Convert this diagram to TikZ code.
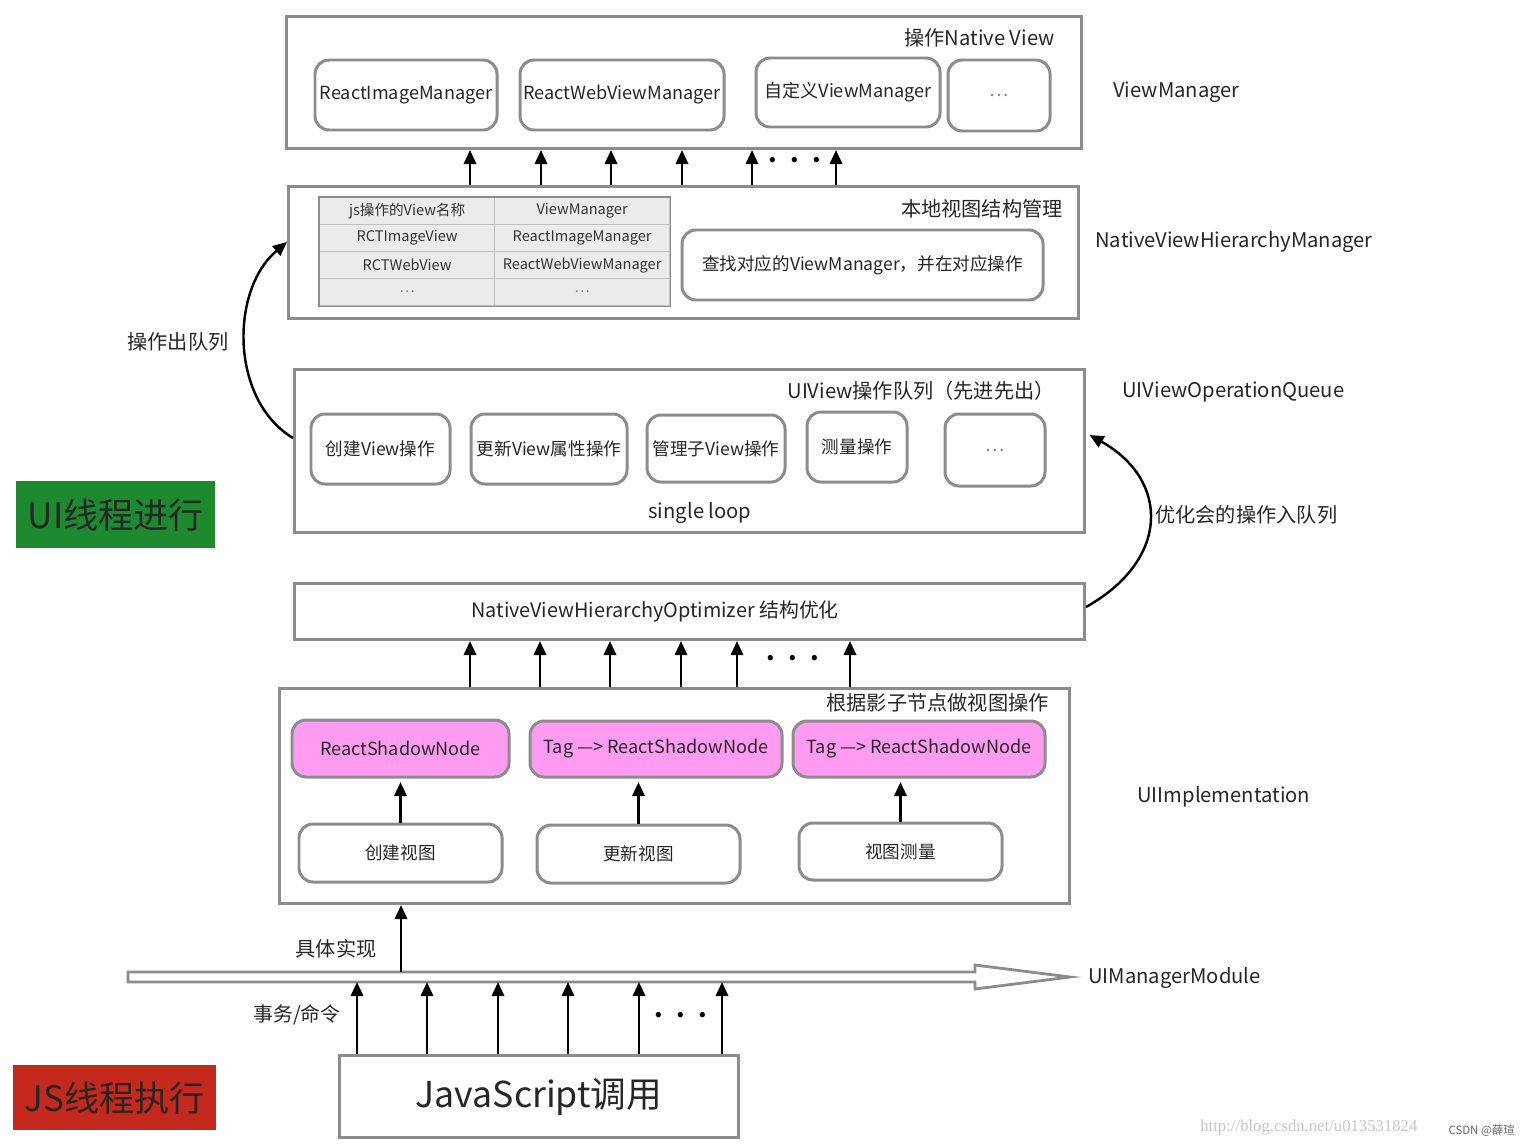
\documentclass[tikz,border=0pt]{standalone}
\usepackage{fontspec}
\setmainfont{Noto Sans CJK SC}
\newfontfamily\markfont{Liberation Serif}
\usetikzlibrary{
  arrows.meta,  % Triangle 箭头
  positioning,  % 节点相对定位
  calc          % 坐标计算
}
\definecolor{boxgray}{HTML}{8C8C8C}
\definecolor{cellgray}{HTML}{EBEBEB}
\definecolor{shadowpink}{HTML}{FF9CF2}
\definecolor{uigreen}{HTML}{1E8A30}
\definecolor{jsred}{HTML}{C5281C}
\newcommand{\moredots}{.\hspace{0.55em}.\hspace{0.55em}.}
\tikzset{
  sz/.style 2 args={minimum width=#1*0.02cm, minimum height=#2*0.02cm},
  layer box/.style={
    draw=boxgray,
    line width=1.7pt,
    fill=white,
    inner sep=0pt,
    anchor=north west
  },
  op box/.style={
    draw=boxgray,
    line width=1.7pt,
    rounded corners=8pt,
    fill=white,
    inner sep=0pt,
    text=black!85,
    font=\fontsize{10.3}{12}\selectfont
  },
  shadow box/.style={
    op box,
    fill=shadowpink
  },
  cell/.style={
    draw=gray!50,
    line width=0.7pt,
    fill=cellgray,
    inner sep=0pt,
    anchor=north west,
    sz={175}{27},
    text=black!80,
    font=\fontsize{8.3}{10}\selectfont
  },
  title text/.style={
    anchor=east,
    inner sep=0pt,
    text=black!85,
    font=\fontsize{11.5}{13}\selectfont
  },
  side label/.style={
    anchor=west,
    inner sep=0pt,
    text=black!85,
    font=\fontsize{11.5}{13}\selectfont
  },
  thread tag/.style={
    anchor=north west,
    inner sep=0pt,
    text=black!85,
    font=\fontsize{20}{22}\selectfont
  },
  up arrow/.style={
    -{Triangle[length=8pt,width=7pt]},
    line width=1.4pt
  },
  curve arrow/.style={
    -{Triangle[length=8pt,width=7pt]},
    line width=1.4pt
  },
  dots/.style={
    inner sep=0pt,
    font=\fontsize{14}{14}\selectfont\bfseries
  }
}

\begin{document}
\begin{tikzpicture}[x=0.02cm, y=-0.02cm]

  % 画布范围
  \fill[white] (0,0) rectangle (1530,1146);
  \useasboundingbox (0,0) rectangle (1530,1146);

  % 1. ViewManager 层
  \node[layer box, sz={795}{132}] (vm) at (285,15) {};
  \node[title text] (vm-title) at (1055,38) {操作Native View};
  \node[op box, sz={182}{70}] (vm-img) at (406,95) {ReactImageManager};
  \node[op box, sz={204}{70}] (vm-web) at (622,95) {ReactWebViewManager};
  \node[op box, sz={184}{69}] (vm-own) at (848,92.5) {自定义ViewManager};
  \node[op box, sz={102}{71}, text=black!50] (vm-more) at (999,95.5) {…};
  \node[side label] (vm-label) at (1113,92) {ViewManager};

  % 2. NativeViewHierarchyManager 层
  \node[layer box, sz={790}{132}] (nvhm) at (287,185) {};
  \node[title text] (nvhm-title) at (1063,209) {本地视图结构管理};
  \foreach \a/\b [count=\i] in {{js操作的View名称}/ViewManager,
      RCTImageView/ReactImageManager,
      RCTWebView/ReactWebViewManager,
      {\textcolor{black!50}{…}}/{\textcolor{black!50}{…}}} {
    \node[cell] (tab-\i-a) at (319,{197+27*(\i-1)}) {\a};
    \node[cell] (tab-\i-b) at (494,{197+27*(\i-1)}) {\b};
  }
  \draw[boxgray, line width=0.8pt] (tab-1-a.north west) rectangle (tab-4-b.south east);
  \node[op box, sz={361}{70}, font=\fontsize{10}{12}\selectfont] (nvhm-find) at (862.5,265)
    {查找对应的ViewManager，并在对应操作};
  \node[side label] (nvhm-label) at (1095,242) {NativeViewHierarchyManager};

  % 上层箭头
  \foreach \x in {470,541,611,682,752,836}
    \draw[up arrow] (\x,0 |- nvhm.north) -- (\x,0 |- vm.south);
  \node[dots] (vm-dots) at (795,160) {\moredots};

  % 3. UIViewOperationQueue 层
  \node[layer box, sz={790}{163}] (uq) at (293,368) {};
  \node[title text] (uq-title) at (1055,391) {UIView操作队列（先进先出）};
  \node[op box, sz={139}{70}, font=\fontsize{10}{12}\selectfont] (uq-create) at (380.5,449) {创建View操作};
  \node[op box, sz={156}{70}, font=\fontsize{10}{12}\selectfont] (uq-update) at (549,449) {更新View属性操作};
  \node[op box, sz={138}{67}, font=\fontsize{10}{12}\selectfont] (uq-child) at (716,448.5) {管理子View操作};
  \node[op box, sz={100}{70}, font=\fontsize{10}{12}\selectfont] (uq-measure) at (857,447) {测量操作};
  \node[op box, sz={100}{72}, text=black!50] (uq-more) at (995,450) {…};
  \node[inner sep=0pt, text=black!85, font=\fontsize{11.5}{13}\selectfont] (uq-loop) at (700,513) {single loop};
  \node[side label] (uq-label) at (1122,392) {UIViewOperationQueue};

  % 出队与入队
  \draw[curve arrow] (uq.west |- 0,438) .. controls (230,400) and (230,290) .. (nvhm.west |- 0,242);
  \node[inner sep=0pt, text=black!85, font=\fontsize{11.5}{13}\selectfont] (deq-label) at (178,342) {操作出队列};

  % UI 线程标记
  \node[thread tag, fill=uigreen, sz={199}{67}] (ui-thread) at (16,481) {UI线程进行};

  % 4. NativeViewHierarchyOptimizer 层
  \node[layer box, sz={790}{56}] (opt) at (293,582) {};
  \node[inner sep=0pt, text=black!85, font=\fontsize{11.3}{13}\selectfont] (opt-title) at (655,611)
    {NativeViewHierarchyOptimizer 结构优化};
  \draw[curve arrow] (opt.east |- 0,607) .. controls (1170,560) and (1170,480) .. ([xshift=2pt]uq.east |- 0,435);
  \node[side label] (enq-label) at (1155,515) {优化会的操作入队列};

  % 5. UIImplementation 层
  \node[layer box, sz={790}{215}] (uimpl) at (278,687) {};
  \foreach \x in {470,540,610,681,737,850}
    \draw[up arrow] (\x,0 |- uimpl.north) -- (\x,0 |- opt.south);
  \node[dots] (opt-dots) at (793,658) {\moredots};
  \node[title text] (uimpl-title) at (1049,703) {根据影子节点做视图操作};
  \node[shadow box, sz={217}{57}] (shadow-1) at (400.5,748.5) {ReactShadowNode};
  \node[shadow box, sz={252}{56}] (shadow-2) at (656,749) {Tag —> ReactShadowNode};
  \node[shadow box, sz={252}{56}] (shadow-3) at (919,749) {Tag —> ReactShadowNode};
  \node[op box, sz={203}{58}, font=\fontsize{10}{12}\selectfont] (do-create) at (400.5,853) {创建视图};
  \node[op box, sz={203}{58}, font=\fontsize{10}{12}\selectfont] (do-update) at (638.5,854) {更新视图};
  \node[op box, sz={203}{57}, font=\fontsize{10}{12}\selectfont] (do-measure) at (900.5,851.5) {视图测量};
  \foreach \n in {create,update,measure}
    \draw[up arrow, shorten >=2pt] (do-\n.north) -- (do-\n.north |- shadow-1.south);
  \node[side label] (uimpl-label) at (1137,797) {UIImplementation};

  % 6. UIManagerModule 空心长箭头
  \coordinate (bar-top) at (128,972);
  \coordinate (bar-bot) at (128,982);
  \draw[boxgray, line width=1.6pt, fill=white, line join=miter]
    (bar-top) -- (975,972) -- (975,965) -- (1070,977) -- (975,989) -- (975,982) -- (bar-bot) -- cycle;
  \node[side label] (umm-label) at (1088,978) {UIManagerModule};
  \draw[up arrow] (401,0 |- bar-top) -- (401,0 |- uimpl.south);
  \node[inner sep=0pt, text=black!85, font=\fontsize{11.5}{13}\selectfont] (impl-label) at (336,949) {具体实现};

  % 7. JavaScript 调用
  \node[layer box, sz={399}{82}, text=black!85, font=\fontsize{20.3}{22}\selectfont] (js) at (338,1054) {JavaScript调用};
  \foreach \x in {357,427,498,568,639,722}
    \draw[up arrow] (\x,0 |- js.north) -- (\x,0 |- bar-bot);
  \node[dots] (js-dots) at (681,1015) {\moredots};
  \node[inner sep=0pt, text=black!85, font=\fontsize{11.3}{13}\selectfont] (cmd-label) at (297,1015) {事务/命令};

  % JS 线程标记
  \node[thread tag, fill=jsred, sz={203}{65}] (js-thread) at (13,1065) {JS线程执行};

  % 水印
  \node[anchor=west, inner sep=0pt, text=black!22, font=\markfont\fontsize{9.5}{11}\selectfont] (mark-url) at (1200,1127)
    {http://blog.csdn.net/u013531824};
  \node[anchor=east, inner sep=0pt, text=black!60, font=\fontsize{6.5}{7}\selectfont] (mark-csdn) at (1515,1131) {CSDN @薛瑄};

\end{tikzpicture}
\end{document}
